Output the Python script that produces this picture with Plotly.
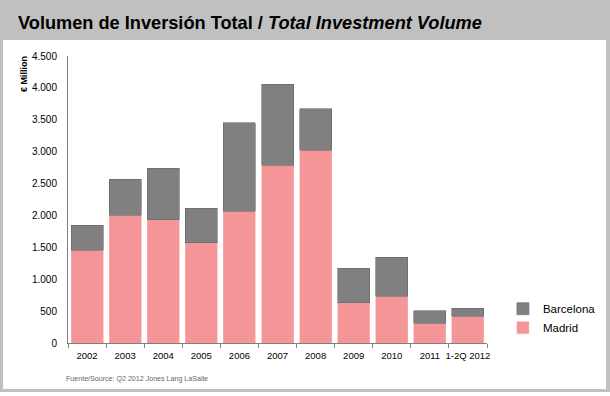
import plotly.graph_objects as go

categories = ["2002", "2003", "2004", "2005", "2006", "2007", "2008", "2009", "2010", "2011", "1-2Q 2012"]
madrid = [1458, 2002, 1934, 1573, 2064, 2791, 3026, 632, 737, 309, 423]
totals = [1846, 2571, 2739, 2112, 3455, 4061, 3674, 1171, 1344, 502, 544]
barcelona = [t - m for t, m in zip(totals, madrid)]

FONT = "Liberation Sans, Arial, sans-serif"

fig = go.Figure()
fig.add_trace(go.Bar(x=categories, y=madrid, name="Madrid",
                     marker=dict(color="#f49698", line=dict(color="#f7b0b1", width=0.6))))
fig.add_trace(go.Bar(x=categories, y=barcelona, name="Barcelona",
                     marker=dict(color="#808080", line=dict(color="#666666", width=0.6))))

# frame (gray outer, white inner)
fig.add_shape(type="rect", xref="paper", yref="paper", layer="below",
              x0=-0.16229, x1=1.29356, y0=-0.17073, y1=1.19512,
              fillcolor="#c0c0c0", line=dict(width=0))
fig.add_shape(type="rect", xref="paper", yref="paper", layer="below",
              x0=-0.15513, x1=1.28401, y0=-0.16028, y1=1.05575,
              fillcolor="white", line=dict(width=0))

fig.add_annotation(xref="paper", yref="paper", x=-0.124, y=1.116,
                   xanchor="left", yanchor="middle", showarrow=False,
                   text="<b>Volumen de Inversión Total / <i>Total Investment Volume</i></b>",
                   font=dict(family=FONT, size=18.2, color="black"))
fig.add_annotation(xref="paper", yref="paper", x=-0.105, y=0.937,
                   xanchor="center", yanchor="middle", showarrow=False, textangle=-90,
                   text="<b>€ Million</b>", font=dict(family=FONT, size=9, color="black"))
fig.add_annotation(xref="paper", yref="paper", x=-0.0095, y=-0.1254,
                   xanchor="left", yanchor="middle", showarrow=False,
                   text="Fuente/Source: Q2 2012 Jones Lang LaSalle",
                   font=dict(family=FONT, size=7.1, color="#666666"))

fig.update_layout(
    width=610, height=396,
    margin=dict(l=68, r=123, t=56, b=53, autoexpand=False),
    barmode="stack", bargap=0.16,
    paper_bgcolor="white", plot_bgcolor="white",
    separators=",.",
    font=dict(family=FONT, size=10, color="black"),
    showlegend=True,
    legend=dict(x=1.038, y=0.17, xanchor="left", yanchor="top",
                traceorder="reversed", font=dict(family=FONT, size=11.5, color="black"),
                bgcolor="rgba(0,0,0,0)"),
    xaxis=dict(showline=True, linecolor="#808080", linewidth=1,
               ticks="outside", tickson="boundaries", ticklen=4, tickcolor="#808080",
               showgrid=False, tickangle=0, ticklabelstandoff=4,
               tickfont=dict(family=FONT, size=9.5)),
    yaxis=dict(range=[0, 4500], dtick=500, tickformat=",d", showline=True,
               linecolor="#808080", linewidth=1, showgrid=False, zeroline=False,
               ticks="", ticklabelstandoff=8, tickfont=dict(family=FONT, size=10)),
)

fig.write_html("out.html", config={"displayModeBar": False},
               post_script="document.body.style.margin='0';")
